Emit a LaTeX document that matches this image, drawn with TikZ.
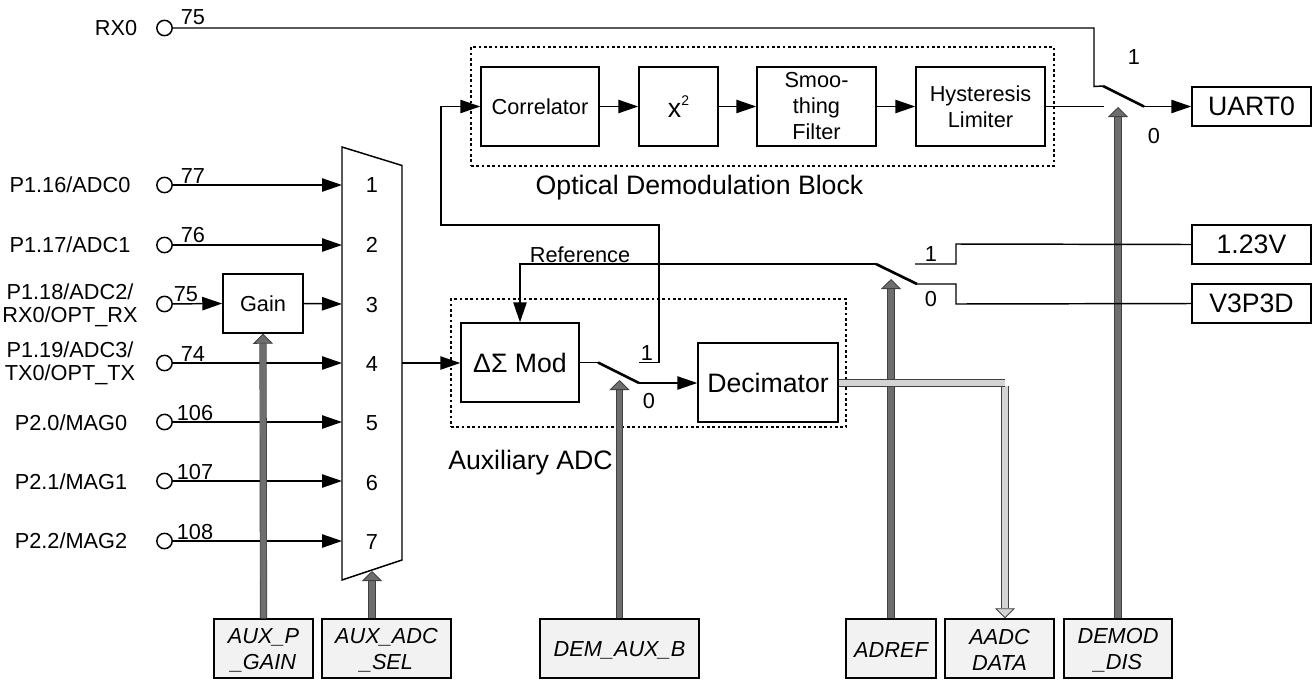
\documentclass[tikz,border=0pt]{standalone}
\usepackage{fontspec}
\setmainfont{Liberation Sans}
\usetikzlibrary{arrows.meta}
\definecolor{busdark}{HTML}{6E6E6E}
\definecolor{buslight}{HTML}{D4D4D4}
\definecolor{ctlfill}{HTML}{F2F2F2}
\newcommand\fn{\fontsize{16.3}{19.5}\selectfont}
\newcommand\fp{\fontsize{16.3}{17}\selectfont}
\newcommand\fb{\fontsize{20}{24}\selectfont}
\newcommand\blk[7][blockbox]{\node[#1,minimum width={(#5-#3)*0.75pt},minimum height={(#6-#4)*0.75pt}] (#2) at ({(#3+#5)/2},{(#4+#6)/2}) {#7};}
\newcommand\ctl[6]{\blk[ctlbox]{#1}{#2}{#3}{#4}{#5}{}\node[ctltext] (#1t) at (#1) {#6};}
\tikzset{
  x=0.75pt,y=-0.75pt,
  wire/.style={draw=black,line width=1.1pt},
  sig/.style={wire,-{Triangle[length=15pt,width=10pt]}},
  swblade/.style={draw=black,line width=2pt},
  blockbox/.style={draw=black,line width=1.1pt,fill=white,inner sep=0pt,align=center,font=\fn},
  bigbox/.style={blockbox,font=\fb},
  ctlbox/.style={blockbox,fill=ctlfill},
  ctltext/.style={inner sep=0pt,align=center,font=\fn\itshape,yshift=-1.3pt},
  dotbox/.style={draw=black,line width=1.1pt,dash pattern=on 2pt off 2pt},
  pin/.style={circle,draw=black,line width=1.1pt,fill=white,minimum size=11.5pt,inner sep=0pt},
  pinlabel/.style={font=\fp,align=center,inner sep=0pt},
  num/.style={font=\fn,inner sep=0pt},
  biglabel/.style={font=\fb,inner sep=0pt},
  ctlbus/.style={draw=black!75,line width=0.5pt,double=busdark,double distance=4.4pt,
    -{Triangle[length=7.5pt,width=15pt,fill=busdark,line width=0.6pt]}},
  databus/.style={draw=black!75,line width=0.5pt,double=buslight,double distance=4.4pt},
  databustip/.style={databus,-{Triangle[length=7.5pt,width=15pt,fill=buslight,line width=0.6pt]}},
}
\begin{document}
\begin{tikzpicture}
\useasboundingbox (0,0) rectangle (1315,679);
% dotted groups
\node[dotbox,minimum width=437.25pt,minimum height=89.25pt,inner sep=0pt] (optgrp) at (762.5,106.5) {};
\node[dotbox,minimum width=296.25pt,minimum height=96pt,inner sep=0pt] (adcgrp) at (648.5,363) {};
% labels
\node[biglabel] (optlab) at (699.5,188) {Optical Demodulation Block};
\node[biglabel] (auxlab) at (530.5,463) {Auxiliary ADC};
% blocks
\blk{cor}{481}{67}{599}{146}{Correlator}
\blk[bigbox]{sq}{639}{67}{718}{146}{x\raisebox{9.5pt}{\fontsize{10.5}{11}\selectfont 2}}
\blk{smo}{757}{67}{876}{146}{Smoo-\\thing\\Filter}
\blk{hys}{916}{67}{1045}{146}{Hysteresis\\Limiter}
\blk[bigbox]{uart}{1192}{87}{1311}{126}{UART0}
\blk[bigbox]{vref}{1192}{225}{1311}{264}{1.23V}
\blk[bigbox]{vdd}{1192}{284}{1311}{323}{V3P3D}
\blk{gain}{223}{274}{303}{333}{Gain}
\blk[bigbox]{mod}{461}{323}{579}{402}{ΔΣ Mod}
\blk[bigbox]{dec}{698}{343}{838}{422}{Decimator}
% bottom boxes
\ctl{auxp}{214}{619}{313}{678}{AUX\_P\\\_GAIN}
\ctl{adcsel}{322}{619}{451}{678}{AUX\_ADC\\\_SEL}
\ctl{dem}{540}{619}{699}{678}{DEM\_AUX\_B}
\ctl{adref}{846}{619}{936}{678}{ADREF}
\ctl{aadc}{945}{619}{1054}{678}{AADC\\DATA}
\ctl{dmd}{1064}{619}{1172}{678}{DEMOD\\\_DIS}
% mux
\coordinate (mtl) at (342,147); \coordinate (mtr) at (402,165.5);
\coordinate (mbr) at (402,560); \coordinate (mbl) at (342,580);
\draw[wire,fill=white,line join=miter] (mtl) -- (mtr) -- (mbr) -- (mbl) -- cycle;
\foreach \n/\y/\ty in {1/185/185,2/245/245,3/304/305,4/363/364,5/422/423,6/481/483,7/541/542}{
  \coordinate (m\n) at (342,\y);
  \node[num] (md\n) at (372,\ty) {\n};
}
\coordinate (mout) at (402,363);
% pins
\foreach \n/\y in {0/28,1/185,2/245,3/304,4/363,5/422,6/481,7/541}{
  \node[pin] (p\n) at (164.5,\y) {};
}
\node[pinlabel] (l0) at (116,28) {RX0};
\node[pinlabel] (l1) at (70,185) {P1.16/ADC0};
\node[pinlabel] (l2) at (70,245) {P1.17/ADC1};
\node[pinlabel] (l3) at (70,305) {P1.18/ADC2/\\RX0/OPT\_RX};
\node[pinlabel] (l4) at (70,363.5) {P1.19/ADC3/\\TX0/OPT\_TX};
\node[pinlabel] (l5) at (71,423) {P2.0/MAG0};
\node[pinlabel] (l6) at (71,482) {P2.1/MAG1};
\node[pinlabel] (l7) at (71,541) {P2.2/MAG2};
\foreach \n/\x/\y/\t in {a/193/17/75,b/193/176/77,c/193/235/76,d/186/294/75,e/193/354/74,f/195/413/106,g/195/472/107,h/195/532/108}{
  \node[num] (n\n) at (\x,\y) {\t};
}
% input wires
\foreach \n in {1,2,4,5,6,7}{ \draw[sig] (p\n) -- (m\n); }
\draw[sig] (p3) -- (gain.west);
\draw[sig] (gain.east) -- (m3);
\draw[sig] (mout) -- (mod.west |- mout);
% optical chain
\draw[sig] (cor.east) -- (sq.west);
\draw[sig] (sq.east) -- (smo.west);
\draw[sig] (smo.east) -- (hys.west);
% switch 1 (demod)
\coordinate (s1a) at (1103,86); \coordinate (s1b) at (1144,106.5); \coordinate (s1c) at (1104,106.5);
\draw[wire] (hys.east) -- (s1c);
\draw[wire] (p0) -- (1094,28) -- (1094,86.5) -- (s1a);
\draw[swblade] (s1a) -- (s1b);
\draw[sig] (s1b) -- (uart.west);
% switch 3 (dsm output)
\coordinate (s3a) at (598,362.5); \coordinate (s3b) at (639,383); \coordinate (s3c) at (659,362.5);
\draw[wire] (mod.east) -- (s3a);
\draw[swblade] (s3a) -- (s3b);
\draw[sig] (s3b) -- (dec.west |- s3b);
\draw[sig] (639,362.5) -- (s3c) -- (659,225) -- (441,225) -- (441,106.5) -- (cor.west);
% buses
\coordinate (muxsel) at (372,571);
\draw[ctlbus] (auxp.north) -- (gain.south);
\draw[ctlbus] (muxsel |- adcsel.north) -- (muxsel);
\draw[ctlbus] (dem.north) -- (619.5,380);
\draw[ctlbus] (adref.north) -- (891,279);
\draw[ctlbus] (dmd.north) -- (1118,107);
% reference switch
\coordinate (s2a) at (876,264); \coordinate (s2b) at (917,284);
\draw[sig] (s2a) -- (520,264) -- (mod.north -| 520,0);
\draw[swblade] (s2a) -- (s2b);
\draw[wire] (s2b) -- (956,284) -- (956,304) -- (vdd.west);
\draw[wire] (915,264) -- (956,264) -- (956,244) -- (vref.west);
% data bus
\coordinate (corner) at (1005,383);
\draw[databustip] (1005,386) -- (corner |- aadc.north);
\draw[databus] (dec.east |- corner) -- (corner);
% labels
\node[num] (refl) at (580,255) {Reference};
\node[num] (t1a) at (1134,57) {1};
\node[num] (t0a) at (1154,136) {0};
\node[num] (t1b) at (931,254) {1};
\node[num] (t0b) at (931,299) {0};
\node[num] (t1c) at (647,353) {1};
\node[num] (t0c) at (649,401) {0};
\end{tikzpicture}
\end{document}
